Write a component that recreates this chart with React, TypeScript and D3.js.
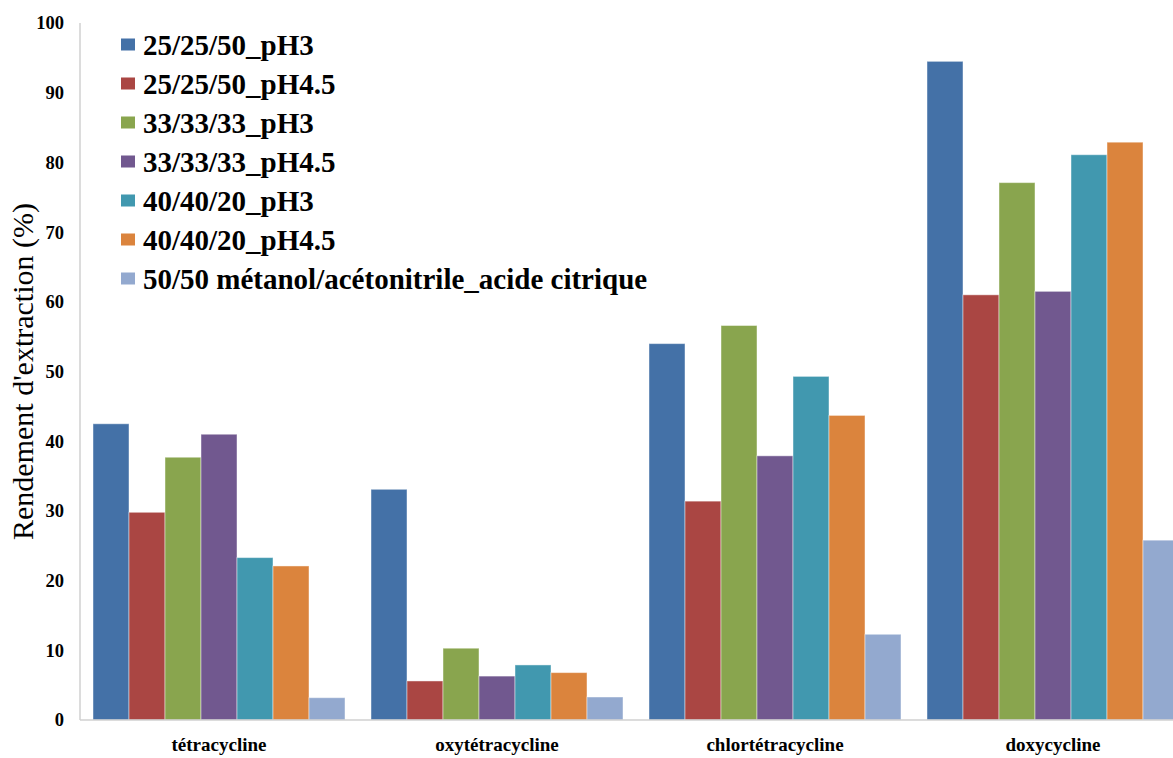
import React from "react";
import * as d3 from "d3";

const categories = ["tétracycline", "oxytétracycline", "chlortétracycline", "doxycycline"];
const seriesNames = [
  "25/25/50_pH3",
  "25/25/50_pH4.5",
  "33/33/33_pH3",
  "33/33/33_pH4.5",
  "40/40/20_pH3",
  "40/40/20_pH4.5",
  "50/50 métanol/acétonitrile_acide citrique",
];
const s1 = [42.5, 33.1, 54.0, 94.5];
const s2 = [29.8, 5.6, 31.4, 61.0];
const s3 = [37.7, 10.3, 56.6, 77.1];
const s4 = [41.0, 6.3, 37.9, 61.5];
const s5 = [23.3, 7.9, 49.3, 81.1];
const s6 = [22.1, 6.8, 43.7, 82.9];
const s7 = [3.2, 3.3, 12.3, 25.8];
const seriesValues = [s1, s2, s3, s4, s5, s6, s7];
const colors = ["#4471A7", "#AA4643", "#89A54E", "#71588F", "#4198AF", "#DB843D", "#93A9CF"];
const yTicks = [0, 10, 20, 30, 40, 50, 60, 70, 80, 90, 100];
const yTitle = "Rendement d'extraction (%)";

const W = 1173;
const H = 758;
const FONT = "Liberation Serif, Times New Roman, serif";

export default function App() {
  const plotLeft = 80;
  const plotRight = 1192;
  const plotTop = 23;
  const plotBottom = 720;

  const x0 = d3.scaleBand<string>().domain(categories).range([plotLeft, plotRight]).paddingInner(0).paddingOuter(0);
  const x1 = d3.scaleBand<string>().domain(seriesNames).range([13, x0.bandwidth() - 13]);
  const y = d3.scaleLinear().domain([0, 100]).range([plotBottom, plotTop]);

  const txt = { fontFamily: FONT };

  return (
    <svg width={W} height={H} style={{ position: "absolute", left: 0, top: 0, background: "#fff" }}>
      <rect x={0} y={0} width={W} height={H} fill="#fff" />
      {seriesNames.map((s, si) =>
        categories.map((c, ci) => {
          const v = seriesValues[si][ci];
          const bx = (x0(c) as number) + (x1(s) as number);
          return (
            <rect
              key={s + c}
              x={bx}
              y={y(v)}
              width={x1.bandwidth()}
              height={y(0) - y(v)}
              fill={colors[si]}
              stroke="rgba(255,255,255,0.45)"
              strokeWidth={1}
            />
          );
        })
      )}
      <line x1={plotLeft} x2={plotLeft} y1={y(100)} y2={y(0)} stroke="#d0d0d0" strokeWidth={1.5} />
      <line x1={plotLeft} x2={W} y1={y(0)} y2={y(0)} stroke="#d0d0d0" strokeWidth={1.5} />
      {yTicks.map((t) => (
        <text key={t} x={64} y={y(t)} dy="0.35em" textAnchor="end" fontSize={18.5} fontWeight="bold" fill="#000" style={txt}>
          {t}
        </text>
      ))}
      {categories.map((c) => (
        <text
          key={c}
          x={(x0(c) as number) + x0.bandwidth() / 2}
          y={751}
          textAnchor="middle"
          fontSize={19}
          fontWeight="bold"
          fill="#000"
          style={txt}
        >
          {c}
        </text>
      ))}
      <text
        transform={`translate(33, ${(plotTop + plotBottom) / 2}) rotate(-90)`}
        textAnchor="middle"
        fontSize={30}
        fill="#000"
        style={txt}
      >
        {yTitle}
      </text>
      {seriesNames.map((s, i) => {
        const cy = 44.5 + i * 39;
        return (
          <g key={s}>
            <rect x={121} y={cy - 6} width={14} height={12} fill={colors[i]} />
            <text x={143} y={cy + 10} fontSize={29} fontWeight="bold" fill="#000" style={txt}>
              {s}
            </text>
          </g>
        );
      })}
    </svg>
  );
}
